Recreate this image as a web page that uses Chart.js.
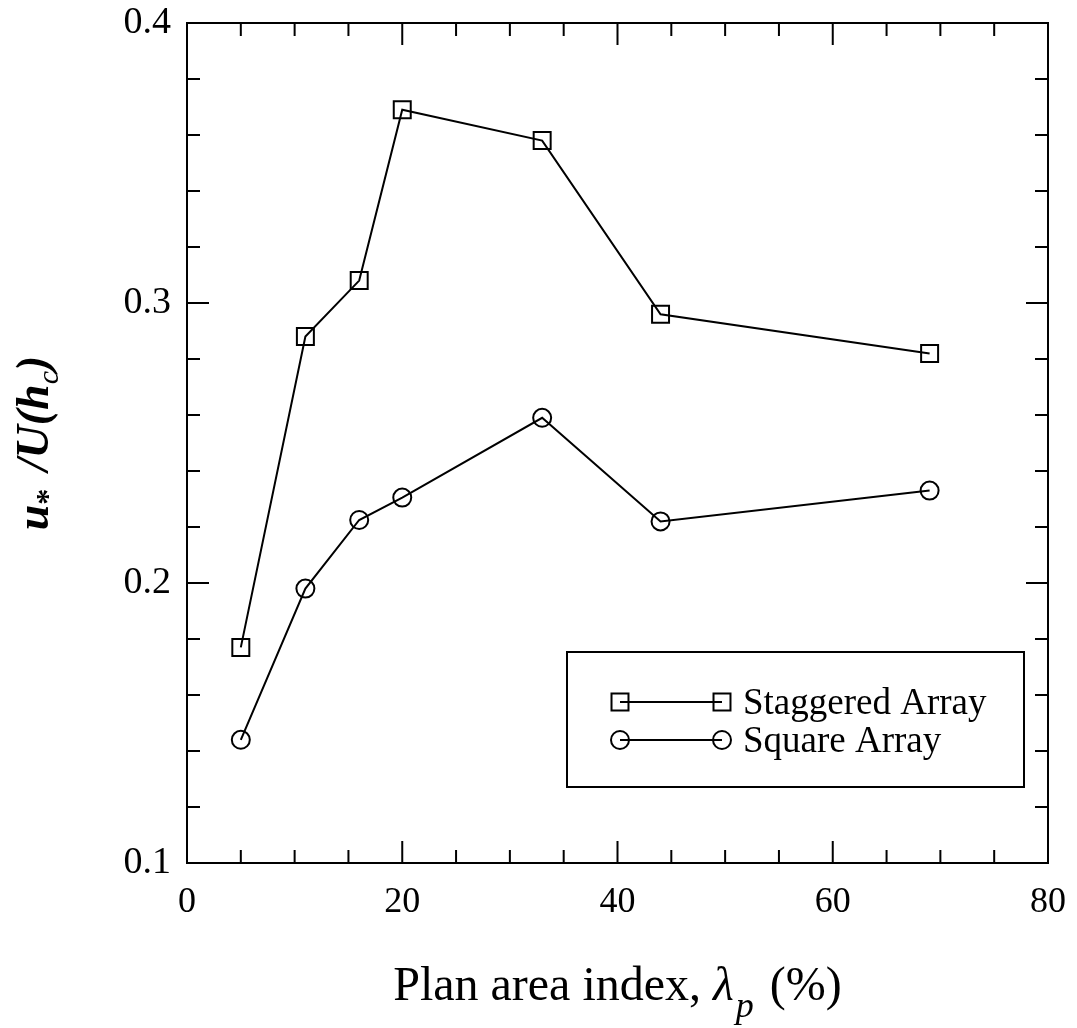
<!DOCTYPE html>
<html>
<head>
<meta charset="utf-8">
<script src="https://cdn.jsdelivr.net/npm/chart.js@4.4.1/dist/chart.umd.min.js"></script>
<style>
  body { margin: 0; background: #fff; }
</style>
</head>
<body>
<canvas id="chart" width="1077" height="1028"></canvas>
<script>
const planArea = [5, 11, 16, 20, 33, 44, 69];
const staggered = [0.177, 0.288, 0.308, 0.369, 0.358, 0.296, 0.282];
const square = [0.144, 0.198, 0.2225, 0.2305, 0.259, 0.222, 0.233];
const xTicks = [0, 20, 40, 60, 80];
const yTicks = [0.1, 0.2, 0.3, 0.4];
const seriesNames = ['Staggered Array', 'Square Array'];

const serif = '"Liberation Serif", "Times New Roman", serif';

function toPoints(ys) {
    return planArea.map((x, i) => ({ x: x, y: ys[i] }));
}

// draw a run of text pieces (for sub/superscripts), starting at x, baseline y
function drawPieces(ctx, pieces, x, y) {
    let cx = x;
    pieces.forEach(p => {
        ctx.font = p.font;
        ctx.fillText(p.text, cx, y + (p.dy || 0));
        cx += ctx.measureText(p.text).width + (p.gap || 0);
    });
}
function piecesWidth(ctx, pieces) {
    let w = 0;
    pieces.forEach(p => {
        ctx.font = p.font;
        w += ctx.measureText(p.text).width + (p.gap || 0);
    });
    return w;
}

// frame, inward ticks on all sides, axis titles, legend
const decorations = {
    id: 'decorations',
    afterDraw(chart) {
        const ctx = chart.ctx;
        const a = chart.chartArea;
        const xs = chart.scales.x, ys = chart.scales.y;
        ctx.save();
        ctx.strokeStyle = '#000';
        ctx.fillStyle = '#000';
        ctx.lineWidth = 2;
        ctx.strokeRect(a.left, a.top, a.right - a.left, a.bottom - a.top);

        ctx.beginPath();
        for (let k = 0; k <= 16; k++) {
            const v = k * 5;
            const px = xs.getPixelForValue(v);
            const len = k % 4 === 0 ? 22 : 13;
            ctx.moveTo(px, a.bottom); ctx.lineTo(px, a.bottom - len);
            ctx.moveTo(px, a.top); ctx.lineTo(px, a.top + len);
        }
        for (let k = 0; k <= 15; k++) {
            const v = 0.1 + k * 0.02;
            const py = ys.getPixelForValue(v);
            const len = k % 5 === 0 ? 22 : 13;
            ctx.moveTo(a.left, py); ctx.lineTo(a.left + len, py);
            ctx.moveTo(a.right, py); ctx.lineTo(a.right - len, py);
        }
        ctx.stroke();

        // x axis title
        ctx.textBaseline = 'alphabetic';
        ctx.textAlign = 'left';
        const xTitle = [
            { text: 'Plan area index, ', font: '48px ' + serif },
            { text: 'λ', font: 'italic 48px ' + serif, gap: 2 },
            { text: 'p', font: 'italic 36px ' + serif, dy: 17, gap: 4 },
            { text: ' (%)', font: '48px ' + serif }
        ];
        const xw = piecesWidth(ctx, xTitle);
        drawPieces(ctx, xTitle, (a.left + a.right) / 2 - xw / 2, 1000);

        // y axis title, rotated
        const yTitle = [
            { text: 'u', font: 'italic bold 46px ' + serif },
            { text: '*', font: 'bold 32px ' + serif, dy: 10, gap: 6 },
            { text: ' /U(h', font: 'italic bold 46px ' + serif },
            { text: 'c', font: 'italic 30px ' + serif, dy: 10 },
            { text: ')', font: 'italic bold 46px ' + serif }
        ];
        ctx.save();
        ctx.translate(48, (a.top + a.bottom) / 2);
        ctx.rotate(-Math.PI / 2);
        const yw = piecesWidth(ctx, yTitle);
        drawPieces(ctx, yTitle, -yw / 2, 0);
        ctx.restore();

        // legend box
        const bx = 567, by = 652, bw = 457, bh = 135;
        ctx.lineWidth = 2;
        ctx.strokeRect(bx, by, bw, bh);
        const rows = [702, 740];
        chart.data.datasets.forEach((ds, i) => {
            const y = rows[i];
            ctx.lineWidth = 2;
            ctx.beginPath();
            ctx.moveTo(620, y); ctx.lineTo(722, y);
            ctx.stroke();
            const opts = { pointStyle: ds.pointStyle, radius: ds.pointRadius, rotation: 0, borderWidth: 2 };
            ctx.fillStyle = 'rgba(0,0,0,0)';
            [620, 722].forEach(px => {
                Chart.helpers.drawPoint(ctx, opts, px, y);
            });
            ctx.fillStyle = '#000';
            ctx.font = '37px ' + serif;
            ctx.textBaseline = 'middle';
            ctx.fillText(ds.label, 743, y + 2);
        });
        ctx.restore();
    }
};

new Chart(document.getElementById('chart').getContext('2d'), {
    type: 'line',
    data: {
        datasets: [
            {
                label: seriesNames[0],
                data: toPoints(staggered),
                borderColor: '#000',
                borderWidth: 2,
                pointStyle: 'rect',
                pointRadius: 12,
                pointBorderWidth: 2,
                pointBorderColor: '#000',
                pointBackgroundColor: 'rgba(0,0,0,0)',
                tension: 0
            },
            {
                label: seriesNames[1],
                data: toPoints(square),
                borderColor: '#000',
                borderWidth: 2,
                pointStyle: 'circle',
                pointRadius: 9,
                pointBorderWidth: 2,
                pointBorderColor: '#000',
                pointBackgroundColor: 'rgba(0,0,0,0)',
                tension: 0
            }
        ]
    },
    options: {
        responsive: false,
        animation: false,
        layout: { padding: { top: 23, right: 29, left: 0, bottom: 0 } },
        plugins: {
            legend: { display: false },
            tooltip: { enabled: false }
        },
        scales: {
            x: {
                type: 'linear',
                min: xTicks[0],
                max: xTicks[xTicks.length - 1],
                grid: { display: false, drawTicks: false },
                border: { display: false },
                afterBuildTicks: s => { s.ticks = xTicks.map(v => ({ value: v })); },
                afterFit: s => { s.height = 165; s.paddingLeft = 0; s.paddingRight = 0; },
                ticks: {
                    color: '#000',
                    padding: 18,
                    maxRotation: 0,
                    autoSkip: false,
                    font: { family: serif, size: 36 },
                    callback: v => String(v)
                }
            },
            y: {
                type: 'linear',
                min: yTicks[0],
                max: yTicks[yTicks.length - 1],
                grid: { display: false, drawTicks: false },
                border: { display: false },
                afterBuildTicks: s => { s.ticks = yTicks.map(v => ({ value: v })); },
                afterFit: s => { s.width = 187; s.paddingTop = 0; s.paddingBottom = 0; },
                ticks: {
                    color: '#000',
                    padding: 16,
                    autoSkip: false,
                    font: { family: serif, size: 38 },
                    callback: v => Number(v).toFixed(1)
                }
            }
        }
    },
    plugins: [decorations]
});
</script>
</body>
</html>
